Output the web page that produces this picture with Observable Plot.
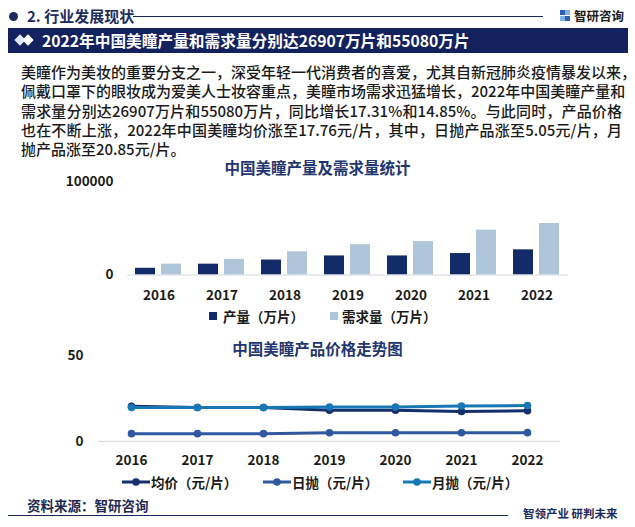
<!DOCTYPE html>
<html>
<head>
<meta charset="utf-8">
<script src="https://cdn.jsdelivr.net/npm/d3@7"></script>
<script src="https://cdn.jsdelivr.net/npm/@observablehq/plot@0.6"></script>
<style>
  html, body { margin: 0; padding: 0; background: #fff; }
  #root { position: relative; width: 635px; height: 527px; overflow: hidden; font-family: "Noto Sans CJK SC", "Noto Sans", sans-serif; background: #fff; }
  .abs { position: absolute; white-space: nowrap; }
  .para { position: absolute; left: 21px; width: 601px; font-size: 15px; line-height: 19.3px; color: #1a1a1a; font-weight: 500; }
  .para div { text-align: justify; text-align-last: justify; white-space: nowrap; height: 19.3px; }
  .para div.last { text-align-last: left; }
  .ctitle { position: absolute; left: 0; width: 635px; text-align: center; font-size: 15.5px; font-weight: 700; color: #1f3670; }
  .leg { position: absolute; font-size: 13.5px; font-weight: 700; color: #1a1a1a; display: flex; align-items: center; }
</style>
</head>
<body>
<div id="root">
  <!-- header -->
  <div class="abs" style="left:8.5px;top:11.5px;width:9px;height:9px;border-radius:50%;background:#1c2b5e;"></div>
  <div class="abs" style="left:27px;top:5px;font-size:15px;font-weight:700;color:#1c2b5e;line-height:22px;">2. 行业发展现状</div>
  <div class="abs" style="left:133px;top:16px;width:410px;height:1px;background:#1c2b5e;"></div>
  <div class="abs" style="left:560px;top:10px;width:5px;height:5px;background:#2b5fb0;"></div>
  <div class="abs" style="left:565px;top:10px;width:5px;height:5px;background:#7fb2e5;"></div>
  <div class="abs" style="left:560px;top:16px;width:5px;height:5px;background:#7fb2e5;"></div>
  <div class="abs" style="left:565px;top:16px;width:5px;height:5px;background:#2b5fb0;"></div>
  <div class="abs" style="left:574px;top:6px;font-size:12.5px;font-weight:700;color:#1a1a1a;line-height:20px;">智研咨询</div>
  <!-- banner -->
  <div class="abs" style="left:8px;top:28px;width:620px;height:25px;background:#13225e;"></div>
  <div class="abs" style="left:16px;top:36px;width:8px;height:8px;background:#dde6f3;transform:rotate(45deg);"></div>
  <div class="abs" style="left:24px;top:36px;width:8px;height:8px;background:#ffffff;transform:rotate(45deg);"></div>
  <div class="abs" style="left:42px;top:28px;font-size:15.7px;font-weight:700;color:#fff;line-height:25px;">2022年中国美瞳产量和需求量分别达26907万片和55080万片</div>
  <!-- paragraph -->
  <div class="para" style="top:62px;">
    <div>美瞳作为美妆的重要分支之一，深受年轻一代消费者的喜爱，尤其自新冠肺炎疫情暴发以来，</div>
    <div>佩戴口罩下的眼妆成为爱美人士妆容重点，美瞳市场需求迅猛增长，2022年中国美瞳产量和</div>
    <div>需求量分别达26907万片和55080万片，同比增长17.31%和14.85%。与此同时，产品价格</div>
    <div>也在不断上涨，2022年中国美瞳均价涨至17.76元/片，其中，日抛产品涨至5.05元/片，月</div>
    <div class="last">抛产品涨至20.85元/片。</div>
  </div>
  <!-- chart 1 -->
  <div class="ctitle" style="top:156px;line-height:22px;">中国美瞳产量及需求量统计</div>
  <div id="bars" class="abs" style="left:0;top:175px;"></div>
  <div class="leg" style="left:209px;top:305px;height:22px;">
    <span style="display:inline-block;width:8px;height:8px;background:#142b69;margin-right:6px;"></span><span>产量（万片）</span>
  </div>
  <div class="leg" style="left:330px;top:305px;height:22px;">
    <span style="display:inline-block;width:8px;height:8px;background:#aec6d8;margin-right:4px;"></span><span>需求量（万片）</span>
  </div>
  <!-- chart 2 -->
  <div class="ctitle" style="top:337px;line-height:22px;">中国美瞳产品价格走势图</div>
  <div id="lines" class="abs" style="left:0;top:350px;"></div>
  <div id="leg2"></div>
  <!-- footer -->
  <div class="abs" style="left:27px;top:494px;font-size:13.5px;font-weight:700;color:#1e2a50;line-height:22px;">资料来源：智研咨询</div>
  <div class="abs" style="left:8px;top:514.5px;width:500px;height:1.5px;background:#1c2b5e;"></div>
  <div class="abs" style="left:523px;top:503px;font-size:11.5px;font-weight:700;color:#1c2b5e;line-height:20px;">智领产业 研判未来</div>
</div>
<script>
// ---- data ----
const years = ["2016", "2017", "2018", "2019", "2020", "2021", "2022"];
const barSeries = ["产量（万片）", "需求量（万片）"];
const production = [7200, 11600, 16000, 20400, 20400, 22937, 26907];
const demand = [11600, 16800, 24800, 32400, 35700, 47958, 55080];
const barTicks = [0, 100000];

const lineSeries = ["均价（元/片）", "日抛（元/片）", "月抛（元/片）"];
const avgPrice = [20.4, 19.7, 19.7, 18.1, 18.1, 17.4, 17.76];
const dailyPrice = [4.45, 4.45, 4.45, 5.0, 5.0, 5.0, 5.05];
const monthlyPrice = [19.7, 19.7, 19.7, 20.0, 20.0, 20.6, 20.85];
const lineTicks = [0, 50];

const barColors = ["#142b69", "#aec6d8"];
const lineColors = ["#152e6c", "#30589f", "#1878b6"];
const font = '"Noto Sans CJK SC", "Noto Sans", sans-serif';

// ---- bar chart ----
const barData = years.flatMap((y, i) => [
  {year: y, series: barSeries[0], value: production[i]},
  {year: y, series: barSeries[1], value: demand[i]}
]);

const bars = Plot.plot({
  width: 635, height: 130,
  marginTop: 6, marginBottom: 30.5, marginLeft: 124, marginRight: 65,
  style: {fontFamily: font, fontSize: "13.5px", fontWeight: 700, color: "#1a1a1a", background: "transparent", overflow: "visible"},
  facet: {data: barData, x: "year"},
  fx: {domain: years, padding: 0, label: null, axis: "bottom", tickSize: 0, tickPadding: 15},
  x: {domain: barSeries, axis: null, paddingInner: 0.222, paddingOuter: 0.29},
  y: {domain: [0, 100000], ticks: barTicks, tickSize: 0, tickPadding: 14, label: null, tickFormat: d => String(d)},
  color: {domain: barSeries, range: barColors},
  marks: [
    Plot.barY(barData, {x: "series", y: "value", fill: "series"}),
    Plot.ruleY([0], {stroke: "#d3d7de", strokeWidth: 1})
  ]
});
document.getElementById("bars").appendChild(bars);

// ---- line chart ----
const lineData = years.flatMap((y, i) => [
  {year: y, series: lineSeries[0], value: avgPrice[i]},
  {year: y, series: lineSeries[1], value: dailyPrice[i]},
  {year: y, series: lineSeries[2], value: monthlyPrice[i]}
]);

const lines = Plot.plot({
  width: 635, height: 125,
  marginTop: 5, marginBottom: 34.2, marginLeft: 98, marginRight: 75,
  style: {fontFamily: font, fontSize: "13.5px", fontWeight: 700, color: "#1a1a1a", background: "transparent", overflow: "visible"},
  x: {type: "point", domain: years, padding: 0.48, tickSize: 0, tickPadding: 14, label: null},
  y: {domain: [0, 50], ticks: lineTicks, tickSize: 0, tickPadding: 15, label: null},
  color: {domain: lineSeries, range: lineColors},
  marks: [
    Plot.ruleY([0], {stroke: "#d3d7de", strokeWidth: 1}),
    Plot.line(lineData, {x: "year", y: "value", z: "series", stroke: "series", strokeWidth: 3}),
    Plot.dot(lineData, {x: "year", y: "value", fill: "series", r: 3.8})
  ]
});
document.getElementById("lines").appendChild(lines);

// ---- line legend ----
const legPos = [122, 263, 403];
const leg2 = document.getElementById("leg2");
lineSeries.forEach((s, i) => {
  const d = document.createElement("div");
  d.className = "leg";
  d.style.left = legPos[i] + "px";
  d.style.top = "471px";
  d.style.height = "22px";
  const c = lineColors[i];
  d.innerHTML = `<svg width="28" height="10" style="margin-right:1px"><line x1="0" y1="5" x2="28" y2="5" stroke="${c}" stroke-width="3"/><circle cx="14" cy="5" r="3.8" fill="${c}"/></svg><span>${s}</span>`;
  leg2.appendChild(d);
});
</script>
</body>
</html>
